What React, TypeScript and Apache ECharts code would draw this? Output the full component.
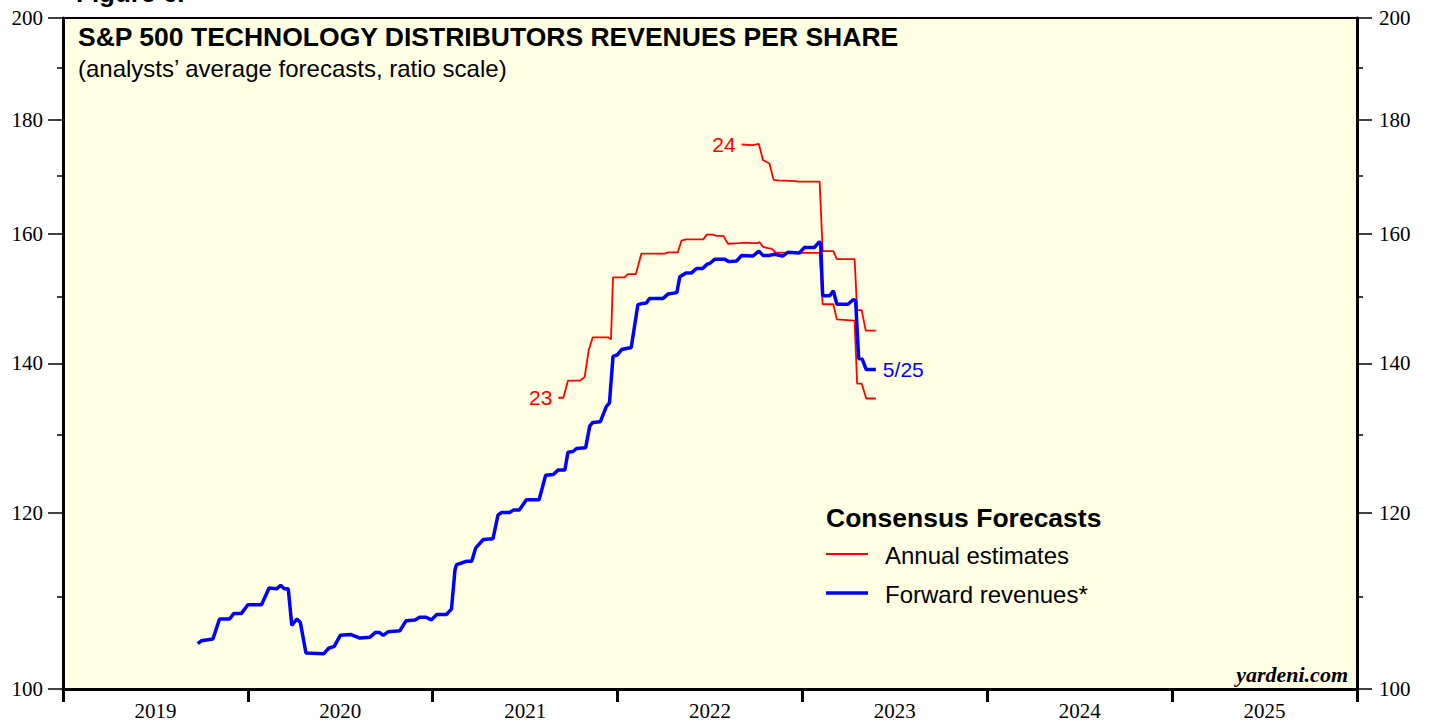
import React, { useEffect, useRef } from 'react';
import * as echarts from 'echarts';

// ---------- data ----------
const fwdDates = [
  '2019-09-24','2019-10-01','2019-10-24','2019-11-06','2019-11-26','2019-12-04','2019-12-19',
  '2020-01-01','2020-01-28','2020-02-12','2020-02-27','2020-03-06','2020-03-13','2020-03-21',
  '2020-03-28','2020-04-07','2020-04-14','2020-04-25','2020-05-30','2020-06-09','2020-06-20',
  '2020-07-02','2020-07-22','2020-08-10','2020-08-30','2020-09-09','2020-09-18','2020-09-25',
  '2020-10-05','2020-10-28','2020-11-09','2020-11-27','2020-12-06','2020-12-19','2020-12-29',
  '2021-01-09','2021-01-28','2021-02-07','2021-02-14','2021-02-17','2021-02-27','2021-03-08',
  '2021-03-19','2021-03-27','2021-04-11','2021-04-30','2021-05-10','2021-05-17','2021-06-02',
  '2021-06-09','2021-06-21','2021-07-05','2021-07-30','2021-08-12','2021-08-27','2021-09-06',
  '2021-09-19','2021-09-25','2021-10-05','2021-10-12','2021-10-30','2021-11-07','2021-11-13',
  '2021-11-28','2021-12-10','2021-12-16','2021-12-23','2021-12-31','2022-01-09','2022-01-28',
  '2022-02-10','2022-02-17','2022-02-27','2022-03-05','2022-04-01','2022-04-11','2022-04-28',
  '2022-05-04','2022-05-16','2022-05-27','2022-06-06','2022-06-18','2022-06-27','2022-07-02',
  '2022-07-12','2022-07-31','2022-08-09','2022-08-24','2022-09-03','2022-09-25','2022-10-07',
  '2022-10-15','2022-10-28','2022-11-07','2022-11-23','2022-12-03','2022-12-26','2023-01-05',
  '2023-01-25','2023-02-03','2023-02-06','2023-02-10','2023-02-24','2023-03-03','2023-03-10',
  '2023-04-01','2023-04-11','2023-04-16','2023-04-22','2023-04-29','2023-05-07','2023-05-26',
];
const fwdValues = [
  104.8,105.1,105.3,107.5,107.5,108.1,108.1,
  109.1,109.1,111.0,110.9,111.3,110.9,110.9,
  106.8,107.5,107.1,103.8,103.7,104.3,104.5,
  105.7,105.8,105.4,105.5,106.0,106.0,105.7,
  106.1,106.2,107.3,107.4,107.7,107.7,107.4,
  108.0,108.0,108.6,113.1,113.7,113.9,114.1,
  114.1,115.7,116.7,116.8,119.7,120.0,120.0,
  120.3,120.3,121.6,121.6,124.7,124.8,125.4,
  125.4,127.7,127.8,128.2,128.3,131.2,131.7,
  131.8,133.9,134.4,141.0,141.2,142.0,142.3,
  148.7,148.9,149.0,149.7,149.7,150.4,150.6,
  153.1,153.7,153.7,154.4,154.4,155.1,155.2,
  155.9,155.9,155.5,155.6,156.5,156.4,157.2,
  156.5,156.5,156.7,156.4,157.0,156.9,157.8,
  157.8,158.7,158.5,150.1,150.1,150.9,148.8,
  148.8,149.5,149.4,140.7,140.6,139.1,139.1,
];

const est23Dates = [
  '2021-09-06','2021-09-16','2021-09-25','2021-10-18','2021-10-28','2021-11-05','2021-11-13',
  '2021-12-13','2021-12-19','2021-12-23','2022-01-15','2022-01-21','2022-02-06','2022-02-17',
  '2022-04-04','2022-04-11','2022-04-30','2022-05-07','2022-05-16','2022-06-19','2022-06-26',
  '2022-07-08','2022-07-15','2022-07-29','2022-08-07','2022-08-30','2022-09-12','2022-09-22',
  '2022-10-05','2022-10-08','2022-10-15','2022-10-25','2022-11-01','2022-11-09','2022-11-30',
  '2023-02-04','2023-02-10','2023-03-03','2023-03-10','2023-04-14','2023-04-19','2023-04-28',
  '2023-05-07','2023-05-26',
];
const est23Values = [
  135.1,135.1,137.5,137.5,138.0,141.9,143.8,
  143.8,143.5,153.0,153.0,153.5,153.5,156.8,
  156.8,157.0,157.0,158.9,159.1,159.1,159.9,
  159.9,159.7,159.7,158.4,158.5,158.6,158.5,
  158.5,158.7,157.9,157.7,157.6,157.0,156.9,
  156.9,148.8,148.8,146.5,146.3,137.1,137.1,
  135.0,135.0,
];

const est24Dates = [
  '2022-09-03','2022-09-25','2022-10-07','2022-10-15','2022-10-28','2022-11-05','2022-11-13',
  '2022-12-19','2022-12-22','2023-02-04','2023-02-10','2023-03-03','2023-03-10','2023-04-14',
  '2023-04-19','2023-04-28','2023-05-06','2023-05-26',
];
const est24Values = [
  175.5,175.4,175.6,172.7,172.1,169.2,169.1,
  169.0,168.9,168.9,157.2,157.2,155.9,155.9,
  147.9,147.9,144.8,144.8,
];

const yMajorTicks = [100, 120, 140, 160, 180, 200];
const yMinorTicks = [110, 130, 150, 170, 190];
const yearTicks = [2019, 2020, 2021, 2022, 2023, 2024, 2025, 2026];
const yearLabels = [2019, 2020, 2021, 2022, 2023, 2024, 2025];

// ---------- helpers ----------
function toYear(s: string): number {
  const d = new Date(s + 'T00:00:00Z');
  const y = d.getUTCFullYear();
  const a = Date.UTC(y, 0, 1);
  const b = Date.UTC(y + 1, 0, 1);
  return y + (d.getTime() - a) / (b - a);
}
function pairs(dates: string[], values: number[]) {
  return dates.map((d, i) => [toYear(d), Math.log10(values[i])]);
}

const SERIF = '"Liberation Serif", "Times New Roman", serif';
const SANS = '"Liberation Sans", Arial, sans-serif';

export default function App() {
  const ref = useRef<HTMLDivElement>(null);

  useEffect(() => {
    if (!ref.current) return;
    const chart = echarts.init(ref.current, null, { renderer: 'svg' });
    const yMin = Math.log10(100);
    const yMax = Math.log10(200);
    const majorLogs = yMajorTicks.map((v) => Math.log10(v));
    const minorLogs = yMinorTicks.map((v) => Math.log10(v));

    const fwd = pairs(fwdDates, fwdValues);
    const e23 = pairs(est23Dates, est23Values);
    const e24 = pairs(est24Dates, est24Values);

    const majorAxis = (position: string, margin: number) => ({
      type: 'value',
      position,
      min: yMin,
      max: yMax,
      axisLine: { show: true, lineStyle: { color: '#000', width: 3 } },
      axisTick: { show: true, customValues: majorLogs, length: 15, lineStyle: { color: '#000', width: 1.5 } },
      axisLabel: {
        show: true,
        customValues: majorLogs,
        formatter: (v: number) => String(Math.round(Math.pow(10, v))),
        fontFamily: SERIF,
        fontSize: 21,
        color: '#000',
        margin,
      },
      splitLine: { show: false },
    });
    const minorAxis = (position: string) => ({
      type: 'value',
      position,
      min: yMin,
      max: yMax,
      axisLine: { show: false },
      axisTick: { show: true, customValues: minorLogs, length: 6, lineStyle: { color: '#000', width: 1.5 } },
      axisLabel: { show: false },
      splitLine: { show: false },
    });

    const labelStyle = (color: string) => ({
      color,
      fontSize: 21,
      fontFamily: SANS,
    });

    chart.setOption({
      animation: false,
      grid: {
        left: 63,
        right: 72,
        top: 18,
        bottom: 32,
        show: true,
        backgroundColor: '#ffffe3',
        borderColor: '#000',
        borderWidth: 2,
      },
      xAxis: {
        type: 'value',
        min: 2019,
        max: 2026,
        axisLine: { show: true, lineStyle: { color: '#000', width: 3 } },
        axisTick: { show: true, customValues: yearTicks, length: 13, lineStyle: { color: '#000', width: 3 } },
        axisLabel: {
          customValues: yearLabels.map((y) => y + 0.5),
          formatter: (v: number) => String(Math.floor(v)),
          fontFamily: SERIF,
          fontSize: 21,
          color: '#000',
          margin: 11,
        },
        splitLine: { show: false },
      },
      yAxis: [majorAxis('left', 20), minorAxis('left'), majorAxis('right', 22), minorAxis('right')],
      series: [
        {
          type: 'line',
          name: 'Annual estimates 2023',
          data: e23,
          yAxisIndex: 0,
          symbol: 'none',
          lineStyle: { color: '#ff0000', width: 1.8 },
          markPoint: {
            symbol: 'circle',
            symbolSize: 0,
            data: [
              {
                coord: e23[0],
                label: { show: true, position: 'left', distance: 6, formatter: '23', ...labelStyle('#ff0000') },
              },
            ],
          },
        },
        {
          type: 'line',
          name: 'Annual estimates 2024',
          data: e24,
          yAxisIndex: 0,
          symbol: 'none',
          lineStyle: { color: '#ff0000', width: 1.8 },
          markPoint: {
            symbol: 'circle',
            symbolSize: 0,
            data: [
              {
                coord: e24[0],
                label: { show: true, position: 'left', distance: 6, formatter: '24', ...labelStyle('#ff0000') },
              },
            ],
          },
        },
        {
          type: 'line',
          name: 'Forward revenues*',
          data: fwd,
          yAxisIndex: 0,
          symbol: 'none',
          lineStyle: { color: '#0000ff', width: 3.5 },
          markPoint: {
            symbol: 'circle',
            symbolSize: 0,
            data: [
              {
                coord: fwd[fwd.length - 1],
                label: { show: true, position: 'right', distance: 7, formatter: '5/25', ...labelStyle('#0000ff') },
              },
            ],
          },
        },
      ],
      graphic: [
        {
          type: 'text',
          x: 76,
          y: -7,
          style: { text: 'Figure 6.', fontSize: 26, fontWeight: 'bold', fontFamily: SANS, fill: '#000', align: 'left', verticalAlign: 'middle' },
        },
        {
          type: 'text',
          x: 78,
          y: 37,
          style: {
            text: 'S&P 500 TECHNOLOGY DISTRIBUTORS REVENUES PER SHARE',
            fontSize: 26.5,
            fontWeight: 'bold',
            fontFamily: SANS,
            fill: '#000',
            align: 'left',
            verticalAlign: 'middle',
          },
        },
        {
          type: 'text',
          x: 78,
          y: 68,
          style: {
            text: '(analysts’ average forecasts, ratio scale)',
            fontSize: 24,
            fontFamily: SANS,
            fill: '#000',
            align: 'left',
            verticalAlign: 'middle',
          },
        },
        {
          type: 'text',
          x: 826,
          y: 518,
          style: { text: 'Consensus Forecasts', fontSize: 26.5, fontWeight: 'bold', fontFamily: SANS, fill: '#000', align: 'left', verticalAlign: 'middle' },
        },
        {
          type: 'line',
          shape: { x1: 826, y1: 554, x2: 868, y2: 554 },
          style: { stroke: '#ff0000', lineWidth: 1.8 },
        },
        {
          type: 'text',
          x: 885,
          y: 555,
          style: { text: 'Annual estimates', fontSize: 24, fontFamily: SANS, fill: '#000', align: 'left', verticalAlign: 'middle' },
        },
        {
          type: 'line',
          shape: { x1: 826, y1: 593, x2: 868, y2: 593 },
          style: { stroke: '#0000ff', lineWidth: 3.5 },
        },
        {
          type: 'text',
          x: 885,
          y: 594,
          style: { text: 'Forward revenues*', fontSize: 24, fontFamily: SANS, fill: '#000', align: 'left', verticalAlign: 'middle' },
        },
        {
          type: 'text',
          x: 1348,
          y: 674,
          style: { text: 'yardeni.com', fontSize: 22, fontWeight: 'bold', fontStyle: 'italic', fontFamily: SERIF, fill: '#000', align: 'right', verticalAlign: 'middle' },
        },
      ],
    });

    return () => {
      chart.dispose();
    };
  }, []);

  return <div ref={ref} style={{ position: 'absolute', left: 0, top: 0, width: 1429, height: 721 }} />;
}
